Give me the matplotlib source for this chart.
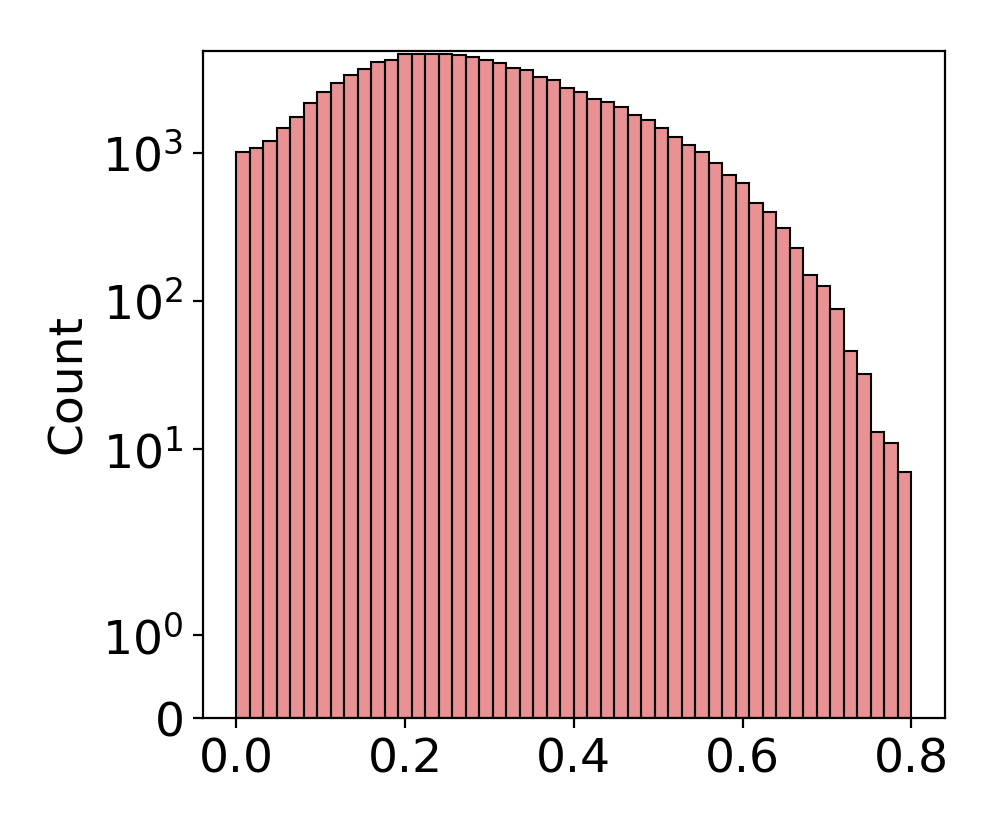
import numpy as np
import matplotlib
matplotlib.use("Agg")
import matplotlib.pyplot as plt

# histogram counts for 50 equal bins spanning 0.0 - 0.8
bin_start = 0.0
bin_stop = 0.8
counts = [1010, 1074, 1192, 1465, 1746, 2148, 2572, 2930, 3334, 3674,
          4076, 4208, 4600, 4650, 4640, 4620, 4548, 4406, 4208, 3998,
          3698, 3604, 3244, 3084, 2712, 2572, 2306, 2192, 2038, 1790,
          1652, 1458, 1280, 1124, 1014, 848, 706, 621, 455, 400,
          309, 229, 150, 126, 88, 46, 32, 13, 11, 7]
xticks = [0.0, 0.2, 0.4, 0.6, 0.8]

edges = np.linspace(bin_start, bin_stop, len(counts) + 1)
widths = np.diff(edges)

fig = plt.figure(figsize=(4.98, 4.15), dpi=200)
ax = fig.add_axes([0.2035, 0.1353, 0.7453, 0.8036])

ax.bar(edges[:-1], counts, width=widths, align="edge",
       facecolor=(0.839, 0.153, 0.157, 0.5), edgecolor="black", linewidth=0.75)

ax.set_yscale("symlog")
ax.set_ylim(0, 4860)
ax.set_xticks(xticks)
ax.set_xticklabels([f"{t:.1f}" for t in xticks])
ax.tick_params(labelsize=17)
ax.set_ylabel("Count", fontsize=17)

fig.savefig("out.png", dpi=200)
